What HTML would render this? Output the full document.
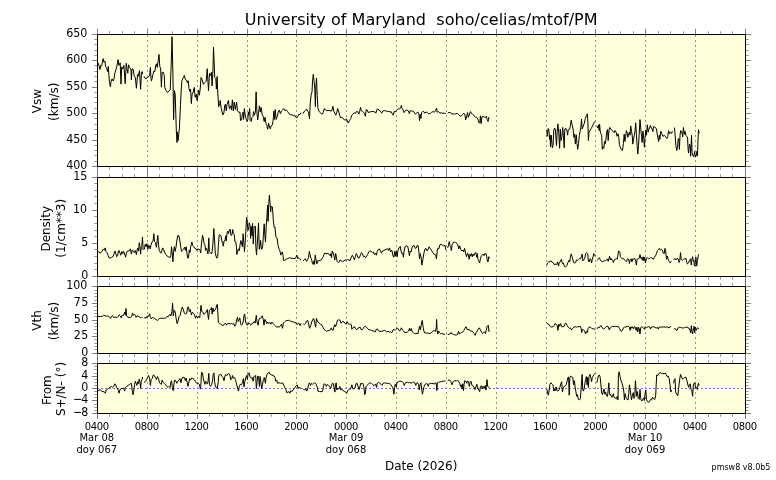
<!DOCTYPE html>
<html lang="en"><head><meta charset="utf-8">
<title>University of Maryland soho/celias/mtof/PM</title>
<style>
html,body{margin:0;padding:0;background:#fff;}
body{width:776px;height:480px;overflow:hidden;}
svg{display:block;}
text{font-family:"DejaVu Sans","Liberation Sans",sans-serif;fill:#000;}
.t16{font-size:16px;letter-spacing:.035px}.t12{font-size:12px}.ty{font-size:11.1px}.tx{font-size:10px}.t8{font-size:8px}.tn{letter-spacing:-.36px}
.sp{fill:none;stroke:#000;stroke-width:1;shape-rendering:crispEdges}
.tk{stroke:#000;stroke-opacity:.5;stroke-width:1;fill:none}
.tm{stroke:#000;stroke-opacity:.4;stroke-width:1;fill:none}
.gr{stroke:#92929a;stroke-width:1;fill:none;stroke-dasharray:2 3}
.zl{stroke:#7474f2;stroke-width:1;fill:none;stroke-dasharray:2 2}
.d{fill:none;stroke:#000;stroke-width:1;stroke-linejoin:round;stroke-linecap:butt}
</style></head><body>
<svg width="776" height="480" viewBox="0 0 776 480" role="img" aria-label="SOHO CELIAS MTOF proton monitor solar wind plot">
<rect x="0" y="0" width="776" height="480" fill="#fff"/>
<text class="t16" x="421.2" y="25.2" text-anchor="middle" xml:space="preserve" style="white-space:pre">University of Maryland  soho/celias/mtof/PM</text>
<g id="panel1">
<rect x="97.5" y="34.5" width="648" height="132" fill="#ffffdc"/>
<path class="gr" stroke-dashoffset="4.5" d="M147.5 34.5V166.5M197.5 34.5V166.5M247.5 34.5V166.5M296.5 34.5V166.5M346.5 34.5V166.5M396.5 34.5V166.5M446.5 34.5V166.5M496.5 34.5V166.5M546.5 34.5V166.5M595.5 34.5V166.5M645.5 34.5V166.5M695.5 34.5V166.5"/>
<polyline class="d" points="97.5,63.8 98.3,63.3 99.1,65.9 100.0,69.5 100.7,65.4 101.7,65.9 102.2,63.3 103.1,58.6 103.9,62.2 105.0,61.2 105.6,66.9 106.7,67.8 107.5,71.6 108.3,66.4 108.9,75.2 109.5,82.5 110.4,86.7 111.1,81.0 112.1,78.9 113.2,81.0 113.9,79.4 114.8,73.2 115.8,70.0 116.8,66.4 118.1,59.6 118.9,65.4 120.2,62.8 121.0,84.1 121.7,66.9 122.9,69.0 123.9,65.4 125.2,83.6 126.2,63.3 127.0,69.0 127.8,73.2 128.5,64.8 129.5,67.4 130.9,69.0 131.4,79.9 132.0,69.0 133.3,69.5 134.0,75.2 135.4,77.9 136.4,88.3 137.5,74.7 138.2,76.3 139.5,70.6 140.6,89.3 141.4,73.2 142.1,71.6 142.7,74.2"/>
<polyline class="d" points="144.1,76.3 145.5,78.9 147.0,77.9 148.1,76.8 149.6,75.8 150.4,67.4 151.0,78.4 151.5,81.0 152.8,75.2 153.8,71.1 154.9,71.6 155.6,65.9 156.4,63.8 157.2,67.4 158.2,60.7 159.0,54.4 159.8,66.9 160.6,68.0 161.4,87.2 162.1,72.1 163.5,72.6 164.2,75.2 164.8,87.8 166.0,90.4 167.4,92.4 168.9,91.4 170.2,89.8 171.2,64.8 172.0,36.7 172.9,72.8 173.6,119.6 174.4,90.6 175.2,94.2 176.3,130.0 177.0,142.5 177.5,132.1 178.1,140.5 179.4,128.0 180.5,104.6 181.2,90.0 181.9,80.7 183.3,77.5 184.3,75.5 185.4,79.6 186.4,80.1 187.4,82.8 188.2,80.7 189.0,88.5 189.8,91.6 190.6,89.0 191.3,103.6 192.1,94.2 193.2,92.1 194.2,87.4 195.2,97.3 196.3,94.2 197.1,100.5 197.9,95.2 198.6,90.0 199.4,95.2 200.2,89.0 201.0,77.5 202.0,79.1 203.4,84.3 204.6,82.8 206.2,81.2 207.2,68.7 208.5,90.6 209.5,73.4 210.4,75.5 211.4,72.3 212.1,85.9 213.0,69.2 213.5,47.3 214.2,64.0 214.7,77.5 215.8,78.6 216.4,89.0 217.1,76.5 217.6,90.0 218.7,106.7 219.7,103.6 220.2,100.5 221.3,108.8 222.9,115.0 223.9,113.0 224.7,105.7 225.5,104.1 226.2,110.9 227.0,104.6 228.4,100.5 229.4,108.8 230.7,105.7 231.5,109.8 232.4,99.9 233.3,110.9 234.3,102.0 235.4,109.8 236.6,102.0 237.4,110.4 238.8,112.4 240.0,112.1 240.5,120.5 241.6,119.9 242.3,114.2 243.1,112.1 243.6,119.4 244.4,108.5 245.2,115.2 246.0,118.4 247.1,121.5 247.8,119.9 248.3,112.1 248.9,115.2 249.6,108.5 250.2,120.5 251.2,121.5 252.0,117.3 253.0,116.3 253.5,111.6 254.4,115.2 255.4,112.1 256.1,91.8 256.9,112.1 257.7,119.9 258.5,113.2 259.4,105.9 260.3,112.1 261.1,107.4 262.1,114.2 263.1,116.3 264.2,121.5 265.0,117.3 266.0,123.6 266.9,125.7 267.7,129.3 268.6,123.1 269.7,127.8 270.4,128.8 271.2,125.7 272.3,125.1 273.1,120.5 273.9,111.1 274.6,119.4 275.2,109.5 276.2,119.4 277.3,116.3 278.3,112.1 279.4,110.0 280.4,113.7 281.5,111.1 282.7,110.0 283.8,108.5 285.0,110.6 286.4,110.0 287.7,111.6 289.0,113.7 290.5,114.7 292.1,114.7 293.3,115.8 294.7,115.2 295.7,117.3 296.8,117.9 297.8,116.3 298.9,114.2 299.9,114.7 301.2,112.6"/>
<polyline class="d" points="303.0,113.7 304.1,111.6 305.4,110.6 306.5,109.0 307.5,111.1 308.5,112.1 309.5,118.9 310.2,103.6 311.2,94.2 312.0,92.1 312.5,81.7 313.3,74.4 314.1,81.7 314.8,89.0 315.4,106.7 315.8,88.0 316.5,78.1 317.2,95.2 317.9,107.8 318.1,109.0 319.2,111.6 320.4,112.6 321.7,114.2 322.7,113.7 323.5,111.1 324.4,108.5 325.4,110.0 326.7,110.6 328.2,110.6 329.8,110.6 331.4,111.1 332.4,109.0 332.9,106.4 333.8,111.1 334.8,113.2 335.8,115.2 336.9,112.1 337.6,108.5 338.6,111.1 339.7,115.2 340.5,117.9 341.8,117.3 343.1,118.4 344.2,119.9 345.4,119.9 346.5,118.9 347.3,121.0 348.3,123.1 349.6,120.5 350.8,118.4 351.7,115.2 352.9,114.2 354.3,112.6 355.3,113.7 356.4,111.6 357.7,111.6 358.8,114.2 359.8,111.1 360.5,107.4 361.2,110.6 362.3,111.1 363.3,112.1 364.4,113.2 365.4,116.3 366.2,109.5 367.3,110.0 368.3,112.6 369.9,111.9 371.5,111.6 373.0,111.4 374.6,111.9 375.8,113.2 376.9,109.5 378.2,109.0 379.6,110.9 380.8,111.6 381.7,113.2 382.7,111.1 384.2,110.6 385.8,110.9 387.6,111.6 388.9,111.3 390.2,112.1 391.2,111.6 392.2,113.7 393.3,115.2 394.1,111.6 395.2,111.9 396.2,110.6 397.2,109.5 398.3,108.8 399.5,109.0 400.6,107.8 401.4,105.4 402.1,108.5 403.2,110.0 404.2,112.6 405.3,110.6 406.8,110.0 408.4,110.9 409.4,113.7 410.2,110.6 411.5,110.9 412.9,111.3 414.1,112.1 415.4,114.2 416.7,113.2 417.8,111.9 418.8,113.7 419.5,120.5 420.2,114.2 420.9,118.4 421.6,112.6 422.5,111.6 423.5,111.3 424.8,113.2 426.1,111.9 427.5,112.6 428.7,113.7 430.3,113.5 431.6,112.3 432.9,111.6 434.1,112.1 435.5,111.1 436.5,108.2 437.2,112.1 438.6,111.6 440.0,113.2 441.2,112.6 442.8,113.4 444.3,113.2 445.9,113.5"/>
<polyline class="d" points="447.7,113.2 449.0,112.3 450.6,112.6 451.8,114.2 453.2,113.7 454.5,114.2 455.8,113.7 457.4,113.5 458.9,114.7 460.2,116.3 461.5,115.8 462.9,114.2 463.9,113.2 465.0,115.2 465.7,119.9 466.9,115.2 467.6,112.6 468.3,117.3 469.2,115.2 470.0,112.6 470.5,111.6 471.2,113.2 472.3,113.7 473.3,114.7 474.4,116.3 475.4,117.3 476.5,117.1 477.5,118.4 478.3,120.5 479.1,123.1 479.8,122.5 480.4,115.8 481.1,123.6 481.9,116.8 482.9,116.5 484.3,117.1 485.6,117.3 486.4,116.3 487.1,119.4 488.1,121.5 488.8,117.3 489.5,117.9"/>
<polyline class="d" points="546.8,130.0 547.3,136.3 548.1,128.5 548.9,130.0 549.6,139.4 550.2,135.2 550.4,146.7 551.2,135.2 552.3,147.8 553.0,145.7 553.8,130.0 554.6,128.0 555.4,130.0 556.5,145.7 557.2,131.1 557.9,123.8 558.8,133.2 559.6,148.3 560.3,129.0 561.0,140.5 561.9,136.3 562.7,127.4 563.4,135.2 564.2,147.8 564.8,129.0 566.0,128.5 567.1,131.1 567.6,135.2 568.3,129.5 569.7,129.0 570.5,124.8 571.2,120.1 572.1,124.8 573.1,129.0 573.9,137.3 574.6,134.2 575.4,144.1 576.2,134.7 577.0,143.6 577.7,149.3 578.5,143.6 579.4,135.2 580.1,131.6 580.8,128.0 581.5,119.1 582.2,129.0 583.2,126.4 584.3,123.3 585.3,118.6 586.4,115.5 587.4,113.9 587.9,122.8 588.4,140.5 589.0,132.1 590.0,130.6 591.2,128.5 592.6,125.9 593.6,123.3 594.7,121.7 595.4,121.2"/>
<polyline class="d" points="596.8,125.9 597.8,128.0 598.5,124.8 599.2,130.6 599.6,124.3 600.2,131.1 600.9,133.7 601.7,135.2 602.3,149.3 603.0,146.7 603.8,148.3 604.6,141.5 605.4,143.6 606.1,137.9 606.7,132.1 607.5,129.5 608.2,140.5 609.0,130.0 609.8,127.4 610.8,129.0 612.1,130.6 613.4,131.6 614.0,132.6 615.0,130.6 616.1,132.1 617.1,136.3 618.0,133.7 618.7,136.3 619.4,144.6 620.5,147.8 621.5,149.8 622.5,150.4 623.4,143.6 624.2,134.2 624.9,141.5 625.7,136.3 626.3,130.6 627.0,132.1 627.8,137.3 628.6,134.2 629.4,132.1 630.1,135.2 630.7,125.9 631.5,131.1 632.2,135.2 632.8,144.1 633.6,138.4 634.3,135.2 635.0,131.1 635.7,122.8 636.4,134.2 637.1,145.7 637.8,154.0 638.5,145.7 639.2,134.2 640.0,119.6 640.9,130.0 641.6,136.3 642.1,142.5 643.0,131.1 643.7,138.4 644.4,147.2 645.0,138.4 645.8,130.0 646.5,135.2 647.3,124.8 648.2,132.1 648.9,129.0 649.6,128.0 650.5,125.4 651.3,128.0 652.3,129.0 652.8,131.6 653.6,126.4 654.6,126.9 655.7,128.0 656.5,129.0 657.2,134.2 658.0,138.4 658.6,141.5 659.3,135.2 659.8,139.4 660.8,131.2 661.9,133.8 662.9,136.4 664.2,135.4 665.4,136.4 666.8,138.5 667.8,136.4 668.5,130.7 669.6,133.8 670.4,132.2 671.7,133.3 672.3,131.2"/>
<polyline class="d" points="674.4,127.5 675.1,134.8 675.8,145.2 676.7,150.5 677.5,147.3 678.2,139.0 678.8,138.5 679.4,149.4 680.0,135.9 680.6,130.7 681.4,131.2 682.1,133.3 682.7,136.9 683.4,127.5 684.2,134.3 685.0,131.2 685.8,135.4 686.9,136.4 687.6,138.0 688.1,149.4 688.6,153.1 689.4,144.2 690.2,145.2 690.7,156.2 691.5,135.4 692.1,152.5 692.8,155.7 693.9,156.7 694.6,151.5 695.4,157.2 696.2,155.7 697.0,151.0 697.5,155.7 698.0,140.0 698.5,129.6 699.1,133.3"/>
<path class="tm" d="M109.5 34.5V31.2M109.5 166.5V169.8M122.5 34.5V31.2M122.5 166.5V169.8M134.5 34.5V31.2M134.5 166.5V169.8M159.5 34.5V31.2M159.5 166.5V169.8M172.5 34.5V31.2M172.5 166.5V169.8M184.5 34.5V31.2M184.5 166.5V169.8M209.5 34.5V31.2M209.5 166.5V169.8M222.5 34.5V31.2M222.5 166.5V169.8M234.5 34.5V31.2M234.5 166.5V169.8M259.5 34.5V31.2M259.5 166.5V169.8M271.5 34.5V31.2M271.5 166.5V169.8M284.5 34.5V31.2M284.5 166.5V169.8M309.5 34.5V31.2M309.5 166.5V169.8M321.5 34.5V31.2M321.5 166.5V169.8M334.5 34.5V31.2M334.5 166.5V169.8M359.5 34.5V31.2M359.5 166.5V169.8M371.5 34.5V31.2M371.5 166.5V169.8M384.5 34.5V31.2M384.5 166.5V169.8M408.5 34.5V31.2M408.5 166.5V169.8M421.5 34.5V31.2M421.5 166.5V169.8M433.5 34.5V31.2M433.5 166.5V169.8M458.5 34.5V31.2M458.5 166.5V169.8M471.5 34.5V31.2M471.5 166.5V169.8M483.5 34.5V31.2M483.5 166.5V169.8M508.5 34.5V31.2M508.5 166.5V169.8M521.5 34.5V31.2M521.5 166.5V169.8M533.5 34.5V31.2M533.5 166.5V169.8M558.5 34.5V31.2M558.5 166.5V169.8M570.5 34.5V31.2M570.5 166.5V169.8M583.5 34.5V31.2M583.5 166.5V169.8M608.5 34.5V31.2M608.5 166.5V169.8M620.5 34.5V31.2M620.5 166.5V169.8M633.5 34.5V31.2M633.5 166.5V169.8M658.5 34.5V31.2M658.5 166.5V169.8M670.5 34.5V31.2M670.5 166.5V169.8M683.5 34.5V31.2M683.5 166.5V169.8M708.5 34.5V31.2M708.5 166.5V169.8M720.5 34.5V31.2M720.5 166.5V169.8M732.5 34.5V31.2M732.5 166.5V169.8M97.5 161.5H94.2M745.5 161.5H748.8M97.5 155.5H94.2M745.5 155.5H748.8M97.5 150.5H94.2M745.5 150.5H748.8M97.5 145.5H94.2M745.5 145.5H748.8M97.5 134.5H94.2M745.5 134.5H748.8M97.5 129.5H94.2M745.5 129.5H748.8M97.5 124.5H94.2M745.5 124.5H748.8M97.5 118.5H94.2M745.5 118.5H748.8M97.5 108.5H94.2M745.5 108.5H748.8M97.5 102.5H94.2M745.5 102.5H748.8M97.5 97.5H94.2M745.5 97.5H748.8M97.5 92.5H94.2M745.5 92.5H748.8M97.5 81.5H94.2M745.5 81.5H748.8M97.5 76.5H94.2M745.5 76.5H748.8M97.5 71.5H94.2M745.5 71.5H748.8M97.5 65.5H94.2M745.5 65.5H748.8M97.5 55.5H94.2M745.5 55.5H748.8M97.5 50.5H94.2M745.5 50.5H748.8M97.5 44.5H94.2M745.5 44.5H748.8M97.5 39.5H94.2M745.5 39.5H748.8"/>
<path class="tk" d="M97.5 34.5V28.9M97.5 166.5V172.1M147.5 34.5V28.9M147.5 166.5V172.1M197.5 34.5V28.9M197.5 166.5V172.1M247.5 34.5V28.9M247.5 166.5V172.1M296.5 34.5V28.9M296.5 166.5V172.1M346.5 34.5V28.9M346.5 166.5V172.1M396.5 34.5V28.9M396.5 166.5V172.1M446.5 34.5V28.9M446.5 166.5V172.1M496.5 34.5V28.9M496.5 166.5V172.1M546.5 34.5V28.9M546.5 166.5V172.1M595.5 34.5V28.9M595.5 166.5V172.1M645.5 34.5V28.9M645.5 166.5V172.1M695.5 34.5V28.9M695.5 166.5V172.1M745.5 34.5V28.9M745.5 166.5V172.1M97.5 166.5H91.9M745.5 166.5H751.1M97.5 140.5H91.9M745.5 140.5H751.1M97.5 113.5H91.9M745.5 113.5H751.1M97.5 87.5H91.9M745.5 87.5H751.1M97.5 60.5H91.9M745.5 60.5H751.1M97.5 34.5H91.9M745.5 34.5H751.1"/>
<rect class="sp" x="97.5" y="34.5" width="648" height="132"/>
<text class="ty" transform="translate(87.4 168.85) scale(1 1.1)" text-anchor="end">400</text>
<text class="ty" transform="translate(87.4 142.85) scale(1 1.1)" text-anchor="end">450</text>
<text class="ty" transform="translate(87.4 115.85) scale(1 1.1)" text-anchor="end">500</text>
<text class="ty" transform="translate(87.4 89.85) scale(1 1.1)" text-anchor="end">550</text>
<text class="ty" transform="translate(87.4 62.85) scale(1 1.1)" text-anchor="end">600</text>
<text class="ty" transform="translate(87.4 36.85) scale(1 1.1)" text-anchor="end">650</text>
<text class="t12" transform="translate(41.1 101) rotate(-90)" text-anchor="middle">Vsw</text>
<text class="t12" transform="translate(57.7 101.75) rotate(-90)" text-anchor="middle">(km/s)</text>
</g>
<g id="panel2">
<rect x="97.5" y="177.5" width="648" height="99" fill="#ffffdc"/>
<path class="gr" stroke-dashoffset="2.5" d="M147.5 177.5V276.5M197.5 177.5V276.5M247.5 177.5V276.5M296.5 177.5V276.5M346.5 177.5V276.5M396.5 177.5V276.5M446.5 177.5V276.5M496.5 177.5V276.5M546.5 177.5V276.5M595.5 177.5V276.5M645.5 177.5V276.5M695.5 177.5V276.5"/>
<polyline class="d" points="97.5,250.5 98.6,251.5 100.2,253.3 101.7,251.5 103.1,249.4 104.3,250.2 105.2,247.9 105.9,251.5 106.9,252.6 108.0,255.2 109.3,258.3 110.6,257.8 111.8,257.2 112.9,256.7 113.9,254.1 115.0,251.0 115.8,253.6 116.6,256.7 117.7,255.7 118.4,251.0 119.1,250.5 120.0,253.1 120.8,255.2 121.8,251.5 122.9,253.6 123.6,251.5 124.6,254.1 125.7,257.2 126.4,253.1 127.0,251.5 128.3,251.0 129.5,250.8 130.4,248.9 131.4,254.1 132.2,250.0 133.3,250.8 134.3,252.6 135.4,250.5 136.4,254.6 137.1,250.0 137.9,247.9 138.7,251.0 139.2,242.7 140.0,246.8 140.6,254.1 141.3,246.8 141.8,246.3 142.5,236.9 143.1,250.0"/>
<polyline class="d" points="144.4,249.4 145.2,244.2 146.0,246.8 147.0,243.7 147.9,249.4 148.6,245.3 149.3,245.8 150.2,248.9 151.0,244.8 152.2,241.6 153.1,241.1 153.8,233.8 154.5,241.6 155.6,242.7 156.4,247.4 157.2,240.6 157.8,235.4 158.5,244.8 159.3,250.5 160.4,252.6 161.1,253.1 161.8,251.0 162.7,247.9 163.5,249.4 164.5,252.0 165.6,254.1 166.8,255.7 168.1,256.7 169.4,257.2 170.0,257.7 170.8,255.6 171.5,246.7 172.1,251.4 172.9,261.8 173.6,251.4 174.4,246.7 175.2,251.4 176.0,247.2 176.8,241.0 177.8,235.3 178.9,235.8 179.9,241.0 180.6,246.2 181.5,251.4 182.5,250.4 183.5,249.3 184.6,247.2 185.4,250.4 186.1,246.7 186.9,252.5 187.7,258.2 188.5,257.7 189.3,249.9 190.0,252.5 190.8,246.2 191.9,242.0 192.7,245.7 193.8,246.7 194.8,248.3 196.0,248.8 196.9,250.4 197.9,248.8 199.2,249.3 200.0,249.9 200.7,253.0 201.5,243.1 202.5,235.3 203.3,237.9 204.2,244.1 204.9,244.6 205.6,250.4 206.5,248.3 207.3,250.9 208.0,254.0 208.8,237.9 209.4,251.4 210.4,252.5 211.5,254.0 212.2,251.4 212.9,244.1 213.8,228.5 214.6,241.0 215.3,253.0 216.0,256.1 216.9,258.2 217.7,256.6 218.4,245.2 219.2,234.8 220.2,235.3 221.0,235.8 221.9,241.0 222.6,243.6 223.3,246.2 224.0,241.0 225.0,240.5 225.7,235.8 226.2,241.0 227.1,232.7 227.8,231.1 228.5,233.7 229.4,230.1 230.2,229.0 230.9,235.3 232.0,234.8 232.7,229.5 233.5,233.7 234.4,234.8 234.8,241.5 235.8,242.0 236.5,247.2 236.9,254.5 237.7,250.4 238.5,248.8 239.3,250.9 240.0,245.2 240.8,240.5 241.7,244.1 242.4,246.7 243.1,233.7 243.8,242.0 244.5,251.9 245.2,242.0 245.8,231.6 246.6,217.0 247.3,222.2 247.9,230.6 248.6,229.5 249.2,222.8 250.0,225.4 250.2,226.4 250.6,238.4 251.2,226.4 252.0,235.8 252.5,223.3 253.3,244.1 254.1,226.4 255.4,226.4 255.8,246.2 256.5,255.1 257.2,245.2 257.9,234.8 258.5,223.3 259.3,249.3 260.0,246.2 260.6,240.5 261.4,249.3 262.1,248.8 262.7,246.2 263.4,234.8 264.2,223.8 264.8,234.8 265.5,242.0 266.2,226.4 266.9,217.2 267.6,205.3 268.1,221.4 268.8,202.7 269.4,195.2 270.2,204.8 270.7,212.0 271.2,206.3 272.3,206.8 272.8,212.0 273.3,220.4 274.2,227.5 274.9,226.9 275.9,236.8 277.0,237.9 278.0,245.2 279.1,249.3 280.1,251.4 280.6,255.1 281.5,254.0 282.2,251.9 282.9,254.5 283.5,260.3 284.8,260.3 286.4,259.2 287.9,258.5 289.5,257.7 291.0,258.2 292.6,258.5 294.2,258.5 295.7,258.2 296.8,255.1 297.8,258.7 298.9,257.7 299.9,258.7 300.9,260.3"/>
<polyline class="d" points="303.0,260.8 304.4,259.8 305.4,258.7 306.5,261.3 307.5,259.8 308.5,257.7 309.3,251.4 310.0,254.5 310.8,257.7 311.7,259.8 312.4,263.4 313.1,264.4 314.0,260.8 314.5,264.4 315.2,255.1 316.0,259.8 316.9,263.9 317.6,260.8 318.6,261.0 320.0,260.3 321.3,259.9 322.3,258.3 323.2,256.7 323.9,254.6 324.9,252.9 326.0,254.1 327.0,253.3 328.1,253.6 329.1,254.1 330.1,255.7 330.9,253.6 331.5,257.8 332.2,251.0 333.3,253.1 334.0,256.2 334.8,259.9 335.7,253.6 336.4,257.2 337.1,261.4 338.2,262.5 339.2,261.9 340.0,259.9 341.1,260.9 342.3,261.4 343.7,260.9 345.0,260.2 346.3,259.9 347.5,259.5 348.9,260.2 350.2,260.4 351.3,257.2 352.3,255.2 353.4,257.2 354.4,259.9 355.5,256.2 356.2,253.6 357.2,255.2 358.3,258.3 359.3,257.8 360.4,255.2 361.4,252.6 362.4,253.6 363.5,256.7 364.5,256.2 365.6,257.8 366.6,256.2 367.6,254.6 368.7,252.0 369.7,251.0 371.1,251.2 372.3,252.6 373.4,252.0 374.4,254.6 375.5,253.1 376.3,255.2 377.3,251.5 378.4,249.4 379.4,248.9 380.5,251.0 381.5,253.1 382.5,251.0 383.8,250.5 385.0,249.8 386.4,249.1 387.4,248.7 388.5,250.5 389.5,247.9 390.6,252.0 391.6,250.0 392.3,252.0 393.2,256.7 394.0,257.2 394.8,251.0 395.5,256.2 396.3,251.5 397.2,256.7 397.9,251.0 398.9,247.9 400.3,246.3 401.0,251.0 401.8,253.6 402.8,253.1 403.4,257.2 404.1,251.0 404.9,246.8 406.2,245.8 407.6,246.3 408.3,248.9 409.4,255.7 410.1,251.0 411.1,252.0 412.0,247.9 413.0,245.8 414.2,245.6 415.3,248.4 416.3,247.9 417.2,245.3 418.2,245.8 419.0,253.1 419.5,258.8 420.3,253.6 421.1,257.2 421.9,265.1 422.9,259.3 423.9,253.1 425.0,248.9 426.0,248.4 427.1,251.0 428.1,249.4 429.1,246.8 430.2,248.4 431.5,250.5 432.8,252.6 433.8,254.1 435.1,254.6 435.9,255.2 436.4,258.8 437.2,251.0 437.8,248.4 438.8,248.9 439.9,244.8 441.1,244.2 442.4,245.3 443.7,245.8 445.1,245.6 445.8,250.0"/>
<polyline class="d" points="447.6,247.9 448.4,245.8 449.2,241.6 450.0,245.3 450.7,246.8 451.3,250.5 452.1,244.8 453.1,242.7 454.5,242.1 455.7,242.5 456.8,243.2 457.8,244.8 458.8,248.9 459.7,245.8 460.7,249.4 461.8,251.0 462.8,250.0 463.5,252.0 464.6,248.4 465.6,253.6 466.6,256.7 467.4,253.1 468.0,253.6 469.2,259.3 470.0,254.1 470.7,256.2 471.5,253.6 472.3,256.7 473.1,254.1 473.9,255.7 474.9,253.1 475.9,252.6 476.7,257.2 477.3,253.6 478.0,259.3 478.8,260.9 479.6,263.0 480.4,259.3 481.1,256.2 482.2,255.2 483.2,254.1 484.0,255.7 484.8,253.6 485.8,253.3 486.7,256.2 487.4,261.4 488.1,261.9 488.8,256.7 489.5,258.3"/>
<polyline class="d" points="546.8,265.1 547.5,263.0 548.9,261.9 550.2,261.4 551.2,260.9 552.3,262.5 553.5,263.0 554.6,265.1 555.6,264.0 556.7,264.5 557.7,261.9 558.5,266.1 559.3,262.5 560.3,261.9 561.4,259.3 562.4,263.5 563.4,263.0 564.5,266.6 565.8,266.8 566.9,265.6 567.9,262.5 569.0,260.4 569.7,261.9 570.4,257.2 571.2,253.9 572.1,256.7 572.8,259.3 573.5,262.5 574.6,263.0 575.6,262.5 576.5,259.9 577.5,260.4 578.5,259.3 579.6,258.3 580.6,258.8 581.5,256.2 582.2,254.1 582.9,260.9 583.8,259.9 584.8,258.3 585.6,253.6 586.7,252.6 587.7,253.6 588.4,261.4 589.2,261.9 590.0,258.8 590.8,259.3 591.6,263.0 592.3,259.3 593.1,256.7 593.8,253.6 594.7,254.6 595.2,256.2"/>
<polyline class="d" points="597.1,260.4 598.1,259.3 599.4,257.8 600.4,259.9 601.5,261.4 602.7,261.6 604.1,260.9 605.4,260.6 606.7,259.9 607.7,258.8 608.2,261.4 609.0,258.3 609.6,256.2 610.3,259.9 611.0,258.3 611.9,259.9 612.9,260.4 613.4,262.5 614.2,259.9 615.2,259.3 616.2,258.5 617.3,259.3 617.9,255.2 618.6,251.0 619.4,251.5 620.0,252.6 620.2,256.2 621.3,257.8 622.3,258.8 623.4,258.3 624.4,259.9 625.5,260.9 626.5,261.4 627.5,258.8 628.6,259.3 629.4,263.5 630.1,259.9 631.2,258.8 631.9,261.9 632.8,258.8 633.8,259.3 634.8,258.3 635.7,261.4 636.4,265.1 637.1,259.3 638.2,258.8 639.2,258.3 640.0,254.6 640.9,258.3 641.6,257.2 642.3,260.4 643.2,256.7 644.0,260.9 644.7,257.2 645.5,263.0 646.3,258.3 647.3,257.8 648.6,258.8 649.9,258.3 651.0,257.2 652.0,258.3 653.4,259.3 654.4,257.2 655.5,255.7 656.5,253.6 657.2,251.0 658.3,250.0 659.3,248.4 660.4,250.0 661.4,249.4 662.4,250.0 663.2,253.1 664.2,253.6 665.0,248.4 665.9,253.1 666.6,259.3 667.3,256.2 668.2,259.3 669.2,261.4 670.2,263.0 671.5,261.4"/>
<polyline class="d" points="673.9,259.9 674.9,258.5 676.0,259.9 677.0,258.3 678.1,258.8 679.1,262.5 679.8,260.4 680.5,252.6 681.2,259.3 682.2,260.4 683.6,259.3 684.8,258.8 685.9,258.3 686.7,261.9 687.4,264.0 688.5,263.0 689.5,260.4 690.6,258.8 691.3,265.1 691.9,259.3 692.6,256.7 693.4,261.4 694.0,260.4 694.2,265.1 694.9,266.1 695.4,262.5 695.9,257.2 696.7,266.1 697.5,260.4 698.3,255.7 698.9,254.1"/>
<path class="tm" d="M109.5 177.5V174.2M109.5 276.5V279.8M122.5 177.5V174.2M122.5 276.5V279.8M134.5 177.5V174.2M134.5 276.5V279.8M159.5 177.5V174.2M159.5 276.5V279.8M172.5 177.5V174.2M172.5 276.5V279.8M184.5 177.5V174.2M184.5 276.5V279.8M209.5 177.5V174.2M209.5 276.5V279.8M222.5 177.5V174.2M222.5 276.5V279.8M234.5 177.5V174.2M234.5 276.5V279.8M259.5 177.5V174.2M259.5 276.5V279.8M271.5 177.5V174.2M271.5 276.5V279.8M284.5 177.5V174.2M284.5 276.5V279.8M309.5 177.5V174.2M309.5 276.5V279.8M321.5 177.5V174.2M321.5 276.5V279.8M334.5 177.5V174.2M334.5 276.5V279.8M359.5 177.5V174.2M359.5 276.5V279.8M371.5 177.5V174.2M371.5 276.5V279.8M384.5 177.5V174.2M384.5 276.5V279.8M408.5 177.5V174.2M408.5 276.5V279.8M421.5 177.5V174.2M421.5 276.5V279.8M433.5 177.5V174.2M433.5 276.5V279.8M458.5 177.5V174.2M458.5 276.5V279.8M471.5 177.5V174.2M471.5 276.5V279.8M483.5 177.5V174.2M483.5 276.5V279.8M508.5 177.5V174.2M508.5 276.5V279.8M521.5 177.5V174.2M521.5 276.5V279.8M533.5 177.5V174.2M533.5 276.5V279.8M558.5 177.5V174.2M558.5 276.5V279.8M570.5 177.5V174.2M570.5 276.5V279.8M583.5 177.5V174.2M583.5 276.5V279.8M608.5 177.5V174.2M608.5 276.5V279.8M620.5 177.5V174.2M620.5 276.5V279.8M633.5 177.5V174.2M633.5 276.5V279.8M658.5 177.5V174.2M658.5 276.5V279.8M670.5 177.5V174.2M670.5 276.5V279.8M683.5 177.5V174.2M683.5 276.5V279.8M708.5 177.5V174.2M708.5 276.5V279.8M720.5 177.5V174.2M720.5 276.5V279.8M732.5 177.5V174.2M732.5 276.5V279.8M97.5 269.5H94.2M745.5 269.5H748.8M97.5 263.5H94.2M745.5 263.5H748.8M97.5 256.5H94.2M745.5 256.5H748.8M97.5 249.5H94.2M745.5 249.5H748.8M97.5 236.5H94.2M745.5 236.5H748.8M97.5 230.5H94.2M745.5 230.5H748.8M97.5 223.5H94.2M745.5 223.5H748.8M97.5 216.5H94.2M745.5 216.5H748.8M97.5 203.5H94.2M745.5 203.5H748.8M97.5 196.5H94.2M745.5 196.5H748.8M97.5 190.5H94.2M745.5 190.5H748.8M97.5 183.5H94.2M745.5 183.5H748.8"/>
<path class="tk" d="M97.5 177.5V171.9M97.5 276.5V282.1M147.5 177.5V171.9M147.5 276.5V282.1M197.5 177.5V171.9M197.5 276.5V282.1M247.5 177.5V171.9M247.5 276.5V282.1M296.5 177.5V171.9M296.5 276.5V282.1M346.5 177.5V171.9M346.5 276.5V282.1M396.5 177.5V171.9M396.5 276.5V282.1M446.5 177.5V171.9M446.5 276.5V282.1M496.5 177.5V171.9M496.5 276.5V282.1M546.5 177.5V171.9M546.5 276.5V282.1M595.5 177.5V171.9M595.5 276.5V282.1M645.5 177.5V171.9M645.5 276.5V282.1M695.5 177.5V171.9M695.5 276.5V282.1M745.5 177.5V171.9M745.5 276.5V282.1M97.5 276.5H91.9M745.5 276.5H751.1M97.5 243.5H91.9M745.5 243.5H751.1M97.5 210.5H91.9M745.5 210.5H751.1M97.5 177.5H91.9M745.5 177.5H751.1"/>
<rect class="sp" x="97.5" y="177.5" width="648" height="99"/>
<text class="ty" transform="translate(88.4 278.85) scale(1 1.1)" text-anchor="end">0</text>
<text class="ty" transform="translate(88.4 245.85) scale(1 1.1)" text-anchor="end">5</text>
<text class="ty" transform="translate(87.1 212.85) scale(1 1.1)" text-anchor="end">10</text>
<text class="ty" transform="translate(87.4 179.85) scale(1 1.1)" text-anchor="end">15</text>
<text class="t12" transform="translate(50.2 228.8) rotate(-90)" text-anchor="middle">Density</text>
<text class="t12" transform="translate(64.5 228.3) rotate(-90)" text-anchor="middle">(1/cm**3)</text>
</g>
<g id="panel3">
<rect x="97.5" y="286.5" width="648" height="67" fill="#ffffdc"/>
<path class="gr" stroke-dashoffset="4.5" d="M147.5 286.5V353.5M197.5 286.5V353.5M247.5 286.5V353.5M296.5 286.5V353.5M346.5 286.5V353.5M396.5 286.5V353.5M446.5 286.5V353.5M496.5 286.5V353.5M546.5 286.5V353.5M595.5 286.5V353.5M645.5 286.5V353.5M695.5 286.5V353.5"/>
<polyline class="d" points="97.5,316.3 99.1,316.6 100.7,316.5 102.2,316.3 103.5,315.3 104.9,315.6 106.2,316.3 107.5,316.0 108.7,316.3 109.8,317.4 110.6,318.4 111.4,316.3 112.5,315.6 113.5,317.4 114.8,317.4 116.0,317.1 117.4,317.4 118.4,316.3 119.1,314.8 120.2,315.8 121.2,317.9 122.0,315.3 123.1,315.8 123.9,314.2 124.6,312.1 125.4,315.3 126.0,308.5 126.7,315.8 127.8,317.4 129.1,317.4 130.4,317.4 131.6,316.8 132.5,313.2 133.5,315.3 134.3,314.2 135.4,315.3 136.1,317.4 137.1,315.8 138.2,316.3 139.2,316.8 140.3,317.7 141.3,317.4 142.4,317.4"/>
<polyline class="d" points="144.4,317.4 145.2,318.4 146.0,316.8 147.0,317.4 147.9,315.8 148.6,316.3 149.6,313.7 150.4,317.4 151.2,318.9 152.2,317.4 153.3,317.9 154.3,318.4 155.4,318.9 156.4,320.0 157.5,320.5 158.5,319.4 159.8,318.4 160.8,318.1 162.1,318.4 163.5,318.1 164.8,318.4 166.0,317.7 167.0,316.3 168.1,316.8 168.9,315.3 170.0,314.2 170.0,315.3 171.0,315.8 171.9,311.6 172.6,303.3 173.3,315.8 174.2,310.1 175.2,311.6 176.0,317.9 177.1,323.6 178.1,321.0 179.2,316.3 180.2,315.3 181.2,310.6 182.3,306.9 183.3,309.5 184.4,313.2 185.4,314.2 186.7,313.7 187.5,307.5 188.5,306.9 189.3,311.6 190.3,309.5 191.4,314.8 192.4,312.1 193.4,313.2 194.5,314.8 195.5,318.4 196.6,315.8 197.6,317.9 198.6,316.3 199.7,317.9 200.4,311.6 201.0,305.4 201.8,311.6 202.8,312.1 203.9,314.2 204.9,313.7 206.2,312.1 207.3,309.5 207.7,313.2 208.5,319.4 209.4,310.6 210.4,309.5 211.5,307.5 212.2,314.2 212.9,308.0 213.8,311.6 214.8,310.1 215.8,309.0 216.7,304.9 217.4,304.3 217.9,313.7 218.4,322.6 219.5,323.6 220.8,324.1 222.1,325.2 223.1,325.7 224.4,324.1 225.4,323.1 226.5,325.2 227.5,323.6 228.9,323.3 230.2,323.9 231.5,323.6 232.5,324.1 233.8,323.6 234.8,326.2 235.8,324.6 236.7,319.4 237.5,317.4 238.2,321.5 239.0,320.0 239.8,317.9 240.6,323.6 241.4,325.2 242.4,324.1 243.4,321.0 244.0,314.8 244.8,314.2 245.6,322.0 246.6,324.6 247.6,325.2 248.7,322.6 249.7,324.1 250.8,325.2 251.8,323.6 253.2,323.1 254.2,321.5 255.2,323.1 256.3,315.3 257.0,322.0 258.1,325.2 259.1,318.9 260.1,318.4 261.2,317.9 262.2,315.8 263.3,319.4 264.0,325.2 264.8,319.4 265.9,321.0 266.7,323.6 267.8,322.0 268.8,323.6 269.8,322.6 270.9,324.1 271.9,322.0 273.2,323.6 274.2,324.6 275.2,325.7 276.5,327.2 277.9,326.7 279.2,327.2 280.5,325.7 281.5,324.1 282.5,328.3 283.4,323.1 284.4,322.0 285.7,321.0 286.9,320.5 288.3,320.3 289.6,320.5 290.9,321.5 292.1,321.8 293.5,322.0 294.8,322.6 296.1,323.1 297.1,324.6 298.2,323.1 299.2,323.6 300.0,325.7 301.1,323.3"/>
<polyline class="d" points="303.4,324.1 304.4,324.6 305.5,323.6 306.5,321.0 307.8,320.5 308.6,324.1 309.6,328.3 310.7,325.7 311.7,322.0 312.8,319.4 313.6,318.4 314.6,322.6 315.7,327.2 316.4,318.4 317.4,321.0 318.0,322.0 319.2,323.3 320.6,324.3 322.0,325.2 323.0,327.2 324.0,329.3 325.3,330.4 326.5,331.2 327.9,330.9 329.2,330.4 330.5,329.9 331.3,327.8 332.1,329.9 333.1,330.4 333.8,327.2 334.7,324.6 335.5,326.7 336.5,324.1 337.3,320.5 338.6,319.8 339.9,320.0 340.9,323.1 342.0,322.0 343.0,321.5 344.0,322.0 345.1,323.6 346.1,324.1 347.2,321.5 348.2,323.9 349.2,324.1 350.5,324.3 351.3,324.6 351.9,329.3 352.9,328.3 353.9,326.7 355.0,327.2 355.7,328.8 356.8,329.9 357.8,328.3 358.8,327.8 360.2,327.2 360.9,329.3 362.0,329.9 363.0,328.8 364.4,326.7 365.4,326.2 366.4,327.2 367.8,328.8 369.0,329.9 370.3,329.9 371.6,330.4 373.0,330.9 374.2,331.4 375.3,331.9 376.3,329.3 377.6,329.1 378.6,330.9 380.0,331.4 381.5,331.2 383.1,330.9 384.7,330.4 385.7,330.9 386.8,331.9 388.0,331.4 389.4,332.2 390.4,331.6 391.4,332.5 392.0,332.5 393.0,329.9 394.1,329.3 395.1,330.4 396.2,329.3 397.2,327.8 398.2,328.8 399.3,330.9 400.3,330.4 401.4,327.8 402.4,329.9 403.5,330.9 404.5,332.5 406.1,332.5 407.6,331.9 408.7,330.9 409.5,328.3 410.2,330.9 411.3,328.5 412.3,331.9 413.4,332.7 414.4,333.5 415.8,333.7 417.0,333.3 418.0,333.7 418.9,329.3 419.6,326.2 420.3,329.9 421.2,325.2 422.2,320.5 423.0,326.2 423.8,330.9 424.8,333.0 426.2,333.0 427.4,333.0 428.7,333.3 430.0,333.5 431.4,332.5 432.4,331.9 433.5,330.4 434.5,330.9 435.5,331.4 436.3,327.2 436.6,319.4 437.1,330.4 437.8,334.0 438.7,330.9 439.4,332.5 440.4,333.5 441.8,333.7 443.0,334.0 444.1,334.3 445.3,334.3"/>
<polyline class="d" points="447.7,334.5 449.1,334.3 450.1,334.0 451.2,332.5 452.2,334.0 453.5,334.5 454.7,334.8 456.1,335.1 457.4,334.5 458.5,331.4 459.2,334.0 460.2,333.3 461.6,332.5 462.8,331.9 463.9,330.4 464.9,328.3 466.0,326.7 467.0,329.3 468.0,329.9 469.1,329.3 470.1,330.9 471.2,331.2 472.0,330.9 473.1,332.5 474.2,333.5 475.2,335.4 476.2,332.5 477.3,330.9 478.3,329.3 479.4,327.8 480.4,329.9 481.5,331.9 482.5,333.5 483.5,332.5 484.6,331.9 485.4,333.5 486.2,330.4 487.0,326.7 487.7,325.7 488.3,325.2 488.9,331.4 489.6,330.4"/>
<polyline class="d" points="546.8,323.1 547.8,323.9 549.2,324.6 550.4,326.7 551.7,327.0 553.0,326.7 554.1,325.2 555.1,323.6 556.1,324.1 557.2,325.7 557.9,330.4 558.8,324.1 559.6,326.2 560.6,323.6 561.7,326.7 562.9,326.7 564.2,326.2 565.0,323.6 566.2,323.6 567.3,325.7 568.3,327.2 569.4,328.3 570.4,327.8 571.5,329.9 572.8,328.3 573.9,327.2 575.2,326.7 576.5,327.2 577.7,326.7 579.1,326.7 580.4,326.4 581.1,328.3 581.7,332.5 582.5,329.3 583.5,329.9 584.6,330.9 585.6,334.0 586.4,331.4 587.4,332.5 588.1,328.3 589.0,327.2 590.2,327.0 591.6,328.3 592.9,328.8 594.2,329.1 595.2,329.3"/>
<polyline class="d" points="597.1,328.8 598.1,327.2 599.2,327.8 600.2,326.2 601.2,325.7 602.3,327.8 603.5,329.1 604.8,328.3 605.8,327.2 606.9,326.2 608.2,326.7 609.3,329.9 610.3,327.8 611.7,326.7 612.9,326.4 614.0,326.4 615.6,326.4 617.1,326.5 618.7,326.8 619.7,328.8 620.5,330.9 621.5,331.4 622.5,329.9 623.4,327.8 624.4,327.0 625.7,327.2 627.0,326.4 628.4,326.4 629.4,327.2 630.1,330.4 630.9,326.7 631.7,328.3 632.5,326.7 633.6,328.8 634.3,326.7 635.4,327.2 636.1,330.4 636.9,327.2 637.8,331.9 638.5,327.2 639.2,328.3 640.0,334.0 640.7,327.8 641.6,326.7 642.6,327.2 643.7,328.3 644.4,329.3 645.2,326.7 646.3,327.8 647.3,327.0 648.6,326.7 649.9,327.2 650.5,329.1 651.3,327.0 652.5,326.7 653.8,327.0 655.1,327.2 656.2,328.3 657.2,327.2 658.3,329.1 659.0,327.2 660.4,327.0 661.9,327.0 663.5,327.0 665.0,327.0 666.6,327.0 668.0,327.2 669.0,328.1 670.0,326.7 671.1,326.5"/>
<polyline class="d" points="673.9,329.3 674.9,328.3 676.0,329.9 677.0,330.4 678.1,327.8 679.4,327.2 680.7,327.5 681.9,327.8 683.3,328.1 684.6,327.5 685.9,327.0 687.1,327.2 688.2,327.8 689.2,328.3 690.0,330.4 690.7,333.0 691.3,325.7 691.9,331.4 692.6,334.0 693.4,328.3 694.0,329.3 694.0,326.2 694.6,332.5 695.4,327.2 696.2,330.4 697.0,328.3 698.0,327.8 698.8,328.8"/>
<path class="tm" d="M109.5 286.5V283.2M109.5 353.5V356.8M122.5 286.5V283.2M122.5 353.5V356.8M134.5 286.5V283.2M134.5 353.5V356.8M159.5 286.5V283.2M159.5 353.5V356.8M172.5 286.5V283.2M172.5 353.5V356.8M184.5 286.5V283.2M184.5 353.5V356.8M209.5 286.5V283.2M209.5 353.5V356.8M222.5 286.5V283.2M222.5 353.5V356.8M234.5 286.5V283.2M234.5 353.5V356.8M259.5 286.5V283.2M259.5 353.5V356.8M271.5 286.5V283.2M271.5 353.5V356.8M284.5 286.5V283.2M284.5 353.5V356.8M309.5 286.5V283.2M309.5 353.5V356.8M321.5 286.5V283.2M321.5 353.5V356.8M334.5 286.5V283.2M334.5 353.5V356.8M359.5 286.5V283.2M359.5 353.5V356.8M371.5 286.5V283.2M371.5 353.5V356.8M384.5 286.5V283.2M384.5 353.5V356.8M408.5 286.5V283.2M408.5 353.5V356.8M421.5 286.5V283.2M421.5 353.5V356.8M433.5 286.5V283.2M433.5 353.5V356.8M458.5 286.5V283.2M458.5 353.5V356.8M471.5 286.5V283.2M471.5 353.5V356.8M483.5 286.5V283.2M483.5 353.5V356.8M508.5 286.5V283.2M508.5 353.5V356.8M521.5 286.5V283.2M521.5 353.5V356.8M533.5 286.5V283.2M533.5 353.5V356.8M558.5 286.5V283.2M558.5 353.5V356.8M570.5 286.5V283.2M570.5 353.5V356.8M583.5 286.5V283.2M583.5 353.5V356.8M608.5 286.5V283.2M608.5 353.5V356.8M620.5 286.5V283.2M620.5 353.5V356.8M633.5 286.5V283.2M633.5 353.5V356.8M658.5 286.5V283.2M658.5 353.5V356.8M670.5 286.5V283.2M670.5 353.5V356.8M683.5 286.5V283.2M683.5 353.5V356.8M708.5 286.5V283.2M708.5 353.5V356.8M720.5 286.5V283.2M720.5 353.5V356.8M732.5 286.5V283.2M732.5 353.5V356.8M97.5 349.5H94.2M745.5 349.5H748.8M97.5 346.5H94.2M745.5 346.5H748.8M97.5 343.5H94.2M745.5 343.5H748.8M97.5 339.5H94.2M745.5 339.5H748.8M97.5 333.5H94.2M745.5 333.5H748.8M97.5 329.5H94.2M745.5 329.5H748.8M97.5 326.5H94.2M745.5 326.5H748.8M97.5 323.5H94.2M745.5 323.5H748.8M97.5 316.5H94.2M745.5 316.5H748.8M97.5 313.5H94.2M745.5 313.5H748.8M97.5 310.5H94.2M745.5 310.5H748.8M97.5 306.5H94.2M745.5 306.5H748.8M97.5 300.5H94.2M745.5 300.5H748.8M97.5 296.5H94.2M745.5 296.5H748.8M97.5 293.5H94.2M745.5 293.5H748.8M97.5 290.5H94.2M745.5 290.5H748.8"/>
<path class="tk" d="M97.5 286.5V280.9M97.5 353.5V359.1M147.5 286.5V280.9M147.5 353.5V359.1M197.5 286.5V280.9M197.5 353.5V359.1M247.5 286.5V280.9M247.5 353.5V359.1M296.5 286.5V280.9M296.5 353.5V359.1M346.5 286.5V280.9M346.5 353.5V359.1M396.5 286.5V280.9M396.5 353.5V359.1M446.5 286.5V280.9M446.5 353.5V359.1M496.5 286.5V280.9M496.5 353.5V359.1M546.5 286.5V280.9M546.5 353.5V359.1M595.5 286.5V280.9M595.5 353.5V359.1M645.5 286.5V280.9M645.5 353.5V359.1M695.5 286.5V280.9M695.5 353.5V359.1M745.5 286.5V280.9M745.5 353.5V359.1M97.5 353.5H91.9M745.5 353.5H751.1M97.5 336.5H91.9M745.5 336.5H751.1M97.5 320.5H91.9M745.5 320.5H751.1M97.5 303.5H91.9M745.5 303.5H751.1M97.5 286.5H91.9M745.5 286.5H751.1"/>
<rect class="sp" x="97.5" y="286.5" width="648" height="67"/>
<text class="ty" transform="translate(88.4 355.85) scale(1 1.1)" text-anchor="end">0</text>
<text class="ty" transform="translate(88.9 338.85) scale(1 1.1)" text-anchor="end" letter-spacing="0.5px">25</text>
<text class="ty" transform="translate(88.9 322.85) scale(1 1.1)" text-anchor="end" letter-spacing="0.5px">50</text>
<text class="ty" transform="translate(88.9 305.85) scale(1 1.1)" text-anchor="end" letter-spacing="0.5px">75</text>
<text class="ty" transform="translate(87.4 288.85) scale(1 1.1)" text-anchor="end">100</text>
<text class="t12" transform="translate(41.1 320.5) rotate(-90)" text-anchor="middle">Vth</text>
<text class="t12" transform="translate(57.7 321) rotate(-90)" text-anchor="middle">(km/s)</text>
</g>
<g id="panel4">
<rect x="97.5" y="363.5" width="648" height="50" fill="#ffffdc"/>
<path class="gr" stroke-dashoffset="1.5" d="M147.5 363.5V413.5M197.5 363.5V413.5M247.5 363.5V413.5M296.5 363.5V413.5M346.5 363.5V413.5M396.5 363.5V413.5M446.5 363.5V413.5M496.5 363.5V413.5M546.5 363.5V413.5M595.5 363.5V413.5M645.5 363.5V413.5M695.5 363.5V413.5"/>
<path class="zl" d="M97 388.5H745.5"/>
<polyline class="d" points="97.5,390.0 98.6,390.6 100.2,389.5 101.7,391.3 103.1,391.6 104.3,391.9 105.4,393.2 106.2,390.0 107.5,389.0 108.7,388.5 110.1,387.1 111.4,386.4 112.7,387.4 113.7,386.4 114.8,383.8 115.8,384.8 116.6,387.4 117.7,389.0 118.4,390.6 119.1,393.2 120.0,389.5 121.2,388.8 122.6,388.5 123.6,388.0 124.6,391.1 125.4,387.4 126.7,386.4 128.1,385.4 129.3,384.6 130.6,383.6 131.4,383.3 132.2,390.0 133.0,394.7 133.7,391.1 134.5,384.8 135.4,381.2 136.1,383.3 136.8,385.4 137.7,381.7 138.5,383.8 139.2,379.1 140.0,382.2 140.6,388.5 141.3,381.2 142.0,379.6 142.6,377.0"/>
<polyline class="d" points="144.4,382.8 145.5,381.2 146.5,379.6 147.6,377.5 148.6,375.5 149.6,378.1 150.4,385.4 151.2,379.6 152.2,378.6 153.3,374.9 154.3,375.5 155.4,377.5 156.4,379.6 157.5,376.5 158.5,378.6 159.3,382.2 160.4,383.8 161.4,384.3 162.1,380.1 163.2,382.2 164.2,383.3 165.6,384.8 166.8,386.4 168.1,387.4 169.1,386.4 170.0,387.4 170.8,382.2 171.6,380.7 172.3,387.4 173.1,390.6 174.0,383.8 174.7,380.1 175.7,380.7 176.8,383.3 177.8,381.2 178.9,380.1 179.9,378.6 180.9,382.8 182.0,378.1 183.0,377.3 184.4,377.5 185.4,380.7 186.1,378.1 187.2,382.2 187.9,386.4 188.8,382.8 189.6,378.6 190.6,380.1 191.7,378.1 192.9,378.6 194.2,379.6 195.2,381.2 196.2,382.8 197.3,383.8 198.3,383.3 199.4,384.8 200.4,389.0 201.0,382.8 201.5,372.3 202.5,372.9 203.3,378.6 204.2,382.2 204.9,384.3 205.6,381.2 206.5,383.3 207.3,383.8 208.0,381.7 208.8,373.4 209.4,384.3 210.4,386.4 211.5,384.8 212.5,381.2 213.2,374.4 214.0,372.9 214.6,381.7 215.3,385.9 216.4,388.0 217.4,388.2 218.1,382.8 218.8,375.5 219.8,374.9 221.0,374.4 222.1,376.5 223.1,377.5 224.0,380.7 224.7,377.0 225.7,374.4 226.8,375.5 227.8,373.9 228.9,373.4 229.9,374.9 230.6,379.6 231.7,379.1 232.5,375.5 233.3,378.1 234.4,377.5 235.4,379.6 236.1,382.2 236.9,385.4 237.7,388.5 238.5,391.1 239.3,386.4 240.3,384.3 241.4,384.8 242.4,382.8 243.4,378.6 244.0,386.9 244.8,381.7 245.9,377.5 246.6,375.5 247.3,379.6 248.2,373.4 249.2,372.9 250.0,376.5 251.1,378.1 252.1,377.5 253.2,381.2 253.9,376.5 254.9,376.0 255.7,375.5 256.3,388.5 257.0,382.8 257.8,376.0 258.6,376.5 259.4,386.4 260.1,376.5 260.9,382.8 261.7,388.5 262.5,384.8 263.3,379.6 264.3,377.5 265.4,383.3 266.1,377.5 267.1,374.4 268.2,372.9 269.2,372.3 270.2,374.4 271.6,374.9 273.0,375.5 274.2,376.0 275.0,377.5 275.8,381.2 276.8,380.1 277.5,383.3 278.9,382.8 280.2,383.0 281.5,383.3 282.8,383.0 283.8,385.4 284.8,387.4 285.9,389.5 286.7,392.6 288.0,392.1 289.0,391.6 289.8,393.2 290.9,390.6 291.9,391.6 293.0,390.0 294.0,388.5 295.0,387.4 296.1,385.9 297.1,384.8 298.0,388.0 299.0,387.4 300.2,388.0 301.3,389.0"/>
<polyline class="d" points="303.4,389.5 304.6,390.0 305.7,388.5 306.7,391.1 307.8,389.0 308.6,384.3 309.4,382.8 310.5,385.4 311.5,383.3 312.5,384.3 313.6,383.3 314.6,382.8 315.7,383.3 316.7,385.9 317.4,387.4 318.0,391.3 319.6,391.6 321.1,391.7 322.7,391.3 323.4,386.4 324.2,383.8 325.3,384.3 326.3,386.4 327.4,384.3 328.4,385.4 329.5,386.4 330.5,388.5 331.3,385.9 332.4,383.3 333.4,383.6 334.1,388.0 334.9,392.1 335.5,384.3 336.2,382.8 336.8,390.0 337.8,388.5 338.8,389.0 339.9,386.4 340.7,390.0 341.8,389.5 343.0,390.6 344.2,391.1 345.6,391.9 346.6,393.2 347.7,390.6 348.7,389.5 349.8,389.0 350.8,388.5 351.9,384.8 352.9,389.0 353.9,388.5 355.0,388.0 356.0,383.8 357.1,383.3 358.1,386.4 359.1,389.5 359.9,386.9 360.7,383.3 361.8,383.8 362.8,383.3 363.8,386.4 364.7,394.7 365.4,393.7 365.9,386.9 367.0,385.4 368.0,384.3 369.0,383.3 370.3,382.8 371.6,383.6 372.7,384.3 373.7,385.9 374.8,384.8 375.8,384.3 376.5,387.4 377.2,383.3 378.4,382.5 379.7,383.0 381.0,384.3 382.1,385.4 383.1,383.3 384.5,382.8 385.7,383.3 387.0,383.0 388.3,383.6 389.7,383.3 390.9,384.8 392.0,386.4 393.0,388.0 393.9,394.2 394.6,387.4 395.3,384.3 396.2,386.9 397.0,382.8 398.2,381.7 399.8,381.2 401.4,381.4 402.4,381.7 403.5,383.3 404.3,385.4 405.0,383.3 406.1,382.5 407.4,382.2 408.7,382.8 409.9,382.5 411.0,383.3 412.3,382.5 413.7,382.2 414.9,383.0 415.8,385.4 416.5,383.3 417.5,382.5 418.6,384.8 419.3,390.0 420.1,384.3 421.0,382.8 421.7,389.0 422.4,394.2 423.2,390.6 424.1,386.4 425.1,384.3 426.4,383.6 427.4,383.8 428.2,386.4 429.3,383.6 430.5,383.3 431.8,383.6 433.1,383.3 434.2,384.3 435.2,382.8 436.3,383.3 436.8,390.6 437.4,382.8 438.7,382.2 439.9,381.9 441.5,381.5 443.0,381.2 444.6,381.0 445.6,380.9"/>
<polyline class="d" points="447.7,380.7 449.1,379.8 450.3,380.5 451.2,382.2 451.9,384.8 452.6,382.8 453.7,381.2 455.0,380.7 456.4,380.9 457.6,380.5 458.7,381.2 459.7,383.3 460.5,386.4 461.3,384.8 462.0,389.0 462.8,383.8 463.5,390.6 464.1,384.3 464.7,380.7 465.8,381.2 466.8,383.3 467.5,381.2 468.6,381.7 469.3,386.4 470.1,382.2 471.0,381.2 472.0,385.4 472.9,385.9 474.0,386.9 475.0,389.5 476.0,386.4 476.9,384.3 477.9,389.0 479.0,390.0 479.7,391.6 480.4,386.4 481.5,385.9 482.3,389.0 483.1,386.4 484.2,388.5 485.2,385.4 485.9,390.0 486.5,384.8 487.0,379.6 487.7,386.4 488.8,387.4 489.6,388.5"/>
<polyline class="d" points="546.8,389.0 547.5,392.1 548.3,395.2 549.2,390.0 549.9,384.3 550.9,382.8 552.0,383.8 553.0,384.8 553.8,391.1 554.6,389.0 555.4,390.6 556.1,386.9 556.9,390.6 557.9,391.1 559.0,390.0 560.0,386.9 560.8,383.8 561.7,381.7 562.4,392.1 563.1,388.5 564.2,386.4 565.2,385.9 566.2,384.8 567.1,381.2 567.9,377.5 568.6,377.0 569.2,395.2 569.8,377.5 570.7,376.0 571.8,377.0 572.8,377.5 573.5,384.8 574.4,380.7 575.2,388.0 575.9,391.6 576.7,396.3 577.5,394.7 578.3,399.4 579.4,399.9 580.4,398.9 581.1,389.0 581.7,379.6 582.2,374.4 582.7,389.0 583.5,391.1 584.3,388.0 585.0,382.8 585.6,379.6 586.4,376.5 587.1,384.8 587.7,377.5 588.4,387.4 589.0,376.5 590.0,374.4 590.8,377.5 591.6,381.7 592.3,377.5 593.1,376.0 594.2,374.4 595.2,373.2"/>
<polyline class="d" points="596.8,382.8 597.5,379.6 598.3,376.0 599.4,374.9 600.2,377.5 600.9,384.8 601.7,393.2 602.5,394.7 603.3,391.1 604.1,389.0 604.8,394.2 605.6,392.1 606.5,395.8 607.5,396.3 608.2,390.0 608.8,382.8 609.4,392.1 610.0,395.2 610.8,394.7 611.9,397.3 612.7,395.2 613.4,393.7 614.0,397.3 615.2,397.9 616.3,398.9 617.3,396.3 618.0,399.9 618.4,374.4 619.2,371.8 620.0,376.5 621.1,380.7 622.1,383.8 623.2,387.4 623.9,392.1 624.4,399.9 625.2,393.7 626.0,397.3 627.0,399.4 628.1,399.9 628.8,393.2 629.4,384.8 630.1,389.0 630.9,395.2 631.5,399.9 632.2,396.3 633.3,392.6 634.0,398.4 634.8,396.3 635.4,380.7 636.1,390.0 636.7,396.3 637.4,391.6 638.2,398.4 639.2,399.4 640.0,389.5 640.7,398.4 641.6,401.0 642.6,399.9 643.7,397.9 644.4,400.5 645.0,394.2 645.8,390.0 646.5,399.4 647.3,401.5 648.6,402.5 649.6,401.0 650.7,399.4 651.5,399.9 652.5,397.3 653.6,398.9 654.8,399.4 655.7,395.2 656.2,384.8 656.7,374.9 657.8,375.5 658.8,373.9 660.0,372.3 661.4,373.4 662.8,373.6 664.0,373.9 665.0,372.9 666.1,374.4 667.1,376.5 668.2,376.0 669.2,378.6 670.0,384.8 670.8,392.1 671.5,390.0"/>
<polyline class="d" points="673.6,383.3 674.4,379.6 675.0,378.6 675.7,392.1 676.7,394.2 677.8,395.8 678.6,389.0 679.6,379.6 680.5,374.4 681.5,377.0 682.5,379.1 683.6,378.6 684.8,377.5 686.1,377.3 686.9,380.7 688.0,385.4 688.8,387.4 689.5,384.3 690.2,383.8 691.1,389.5 691.9,391.1 692.6,396.3 693.4,384.8 694.0,383.3 694.9,382.8 695.6,388.0 696.5,387.4 697.3,389.5 698.0,384.8 698.5,383.3 699.1,385.4"/>
<path class="tm" d="M109.5 363.5V360.2M109.5 413.5V416.8M122.5 363.5V360.2M122.5 413.5V416.8M134.5 363.5V360.2M134.5 413.5V416.8M159.5 363.5V360.2M159.5 413.5V416.8M172.5 363.5V360.2M172.5 413.5V416.8M184.5 363.5V360.2M184.5 413.5V416.8M209.5 363.5V360.2M209.5 413.5V416.8M222.5 363.5V360.2M222.5 413.5V416.8M234.5 363.5V360.2M234.5 413.5V416.8M259.5 363.5V360.2M259.5 413.5V416.8M271.5 363.5V360.2M271.5 413.5V416.8M284.5 363.5V360.2M284.5 413.5V416.8M309.5 363.5V360.2M309.5 413.5V416.8M321.5 363.5V360.2M321.5 413.5V416.8M334.5 363.5V360.2M334.5 413.5V416.8M359.5 363.5V360.2M359.5 413.5V416.8M371.5 363.5V360.2M371.5 413.5V416.8M384.5 363.5V360.2M384.5 413.5V416.8M408.5 363.5V360.2M408.5 413.5V416.8M421.5 363.5V360.2M421.5 413.5V416.8M433.5 363.5V360.2M433.5 413.5V416.8M458.5 363.5V360.2M458.5 413.5V416.8M471.5 363.5V360.2M471.5 413.5V416.8M483.5 363.5V360.2M483.5 413.5V416.8M508.5 363.5V360.2M508.5 413.5V416.8M521.5 363.5V360.2M521.5 413.5V416.8M533.5 363.5V360.2M533.5 413.5V416.8M558.5 363.5V360.2M558.5 413.5V416.8M570.5 363.5V360.2M570.5 413.5V416.8M583.5 363.5V360.2M583.5 413.5V416.8M608.5 363.5V360.2M608.5 413.5V416.8M620.5 363.5V360.2M620.5 413.5V416.8M633.5 363.5V360.2M633.5 413.5V416.8M658.5 363.5V360.2M658.5 413.5V416.8M670.5 363.5V360.2M670.5 413.5V416.8M683.5 363.5V360.2M683.5 413.5V416.8M708.5 363.5V360.2M708.5 413.5V416.8M720.5 363.5V360.2M720.5 413.5V416.8M732.5 363.5V360.2M732.5 413.5V416.8M97.5 410.5H94.2M745.5 410.5H748.8M97.5 407.5H94.2M745.5 407.5H748.8M97.5 404.5H94.2M745.5 404.5H748.8M97.5 397.5H94.2M745.5 397.5H748.8M97.5 394.5H94.2M745.5 394.5H748.8M97.5 391.5H94.2M745.5 391.5H748.8M97.5 385.5H94.2M745.5 385.5H748.8M97.5 382.5H94.2M745.5 382.5H748.8M97.5 379.5H94.2M745.5 379.5H748.8M97.5 373.5H94.2M745.5 373.5H748.8M97.5 369.5H94.2M745.5 369.5H748.8M97.5 366.5H94.2M745.5 366.5H748.8"/>
<path class="tk" d="M97.5 363.5V357.9M97.5 413.5V419.1M147.5 363.5V357.9M147.5 413.5V419.1M197.5 363.5V357.9M197.5 413.5V419.1M247.5 363.5V357.9M247.5 413.5V419.1M296.5 363.5V357.9M296.5 413.5V419.1M346.5 363.5V357.9M346.5 413.5V419.1M396.5 363.5V357.9M396.5 413.5V419.1M446.5 363.5V357.9M446.5 413.5V419.1M496.5 363.5V357.9M496.5 413.5V419.1M546.5 363.5V357.9M546.5 413.5V419.1M595.5 363.5V357.9M595.5 413.5V419.1M645.5 363.5V357.9M645.5 413.5V419.1M695.5 363.5V357.9M695.5 413.5V419.1M745.5 363.5V357.9M745.5 413.5V419.1M97.5 413.5H91.9M745.5 413.5H751.1M97.5 400.5H91.9M745.5 400.5H751.1M97.5 388.5H91.9M745.5 388.5H751.1M97.5 376.5H91.9M745.5 376.5H751.1M97.5 363.5H91.9M745.5 363.5H751.1"/>
<rect class="sp" x="97.5" y="363.5" width="648" height="50"/>
<text class="ty" transform="translate(87.4 415.85) scale(1 1.1)" text-anchor="end" letter-spacing="-1px">−8</text>
<text class="ty" transform="translate(87.4 402.85) scale(1 1.1)" text-anchor="end" letter-spacing="-1px">−4</text>
<text class="ty" transform="translate(88.4 390.85) scale(1 1.1)" text-anchor="end">0</text>
<text class="ty" transform="translate(88.4 378.85) scale(1 1.1)" text-anchor="end">4</text>
<text class="ty" transform="translate(88.4 365.85) scale(1 1.1)" text-anchor="end">8</text>
<text class="t12" transform="translate(51.2 390.2) rotate(-90)" text-anchor="middle">From</text>
<text class="t12" transform="translate(64.5 389) rotate(-90)" text-anchor="middle">S+/N- (°)</text>
</g>
<g id="xlabels">
<text class="tx tn" transform="translate(96.8 429.6) scale(1 1.08)" text-anchor="middle">0400</text>
<text class="tx" transform="translate(96.8 440.8) scale(1 1.08)" text-anchor="middle">Mar 08</text>
<text class="tx" transform="translate(96.8 452.6) scale(1 1.08)" text-anchor="middle">doy 067</text>
<text class="tx tn" transform="translate(146.64 429.6) scale(1 1.08)" text-anchor="middle">0800</text>
<text class="tx tn" transform="translate(196.48 429.6) scale(1 1.08)" text-anchor="middle">1200</text>
<text class="tx tn" transform="translate(246.32 429.6) scale(1 1.08)" text-anchor="middle">1600</text>
<text class="tx tn" transform="translate(296.15 429.6) scale(1 1.08)" text-anchor="middle">2000</text>
<text class="tx tn" transform="translate(345.99 429.6) scale(1 1.08)" text-anchor="middle">0000</text>
<text class="tx" transform="translate(345.99 440.8) scale(1 1.08)" text-anchor="middle">Mar 09</text>
<text class="tx" transform="translate(345.99 452.6) scale(1 1.08)" text-anchor="middle">doy 068</text>
<text class="tx tn" transform="translate(395.83 429.6) scale(1 1.08)" text-anchor="middle">0400</text>
<text class="tx tn" transform="translate(445.67 429.6) scale(1 1.08)" text-anchor="middle">0800</text>
<text class="tx tn" transform="translate(495.51 429.6) scale(1 1.08)" text-anchor="middle">1200</text>
<text class="tx tn" transform="translate(545.35 429.6) scale(1 1.08)" text-anchor="middle">1600</text>
<text class="tx tn" transform="translate(595.18 429.6) scale(1 1.08)" text-anchor="middle">2000</text>
<text class="tx tn" transform="translate(645.02 429.6) scale(1 1.08)" text-anchor="middle">0000</text>
<text class="tx" transform="translate(645.02 440.8) scale(1 1.08)" text-anchor="middle">Mar 10</text>
<text class="tx" transform="translate(645.02 452.6) scale(1 1.08)" text-anchor="middle">doy 069</text>
<text class="tx tn" transform="translate(694.86 429.6) scale(1 1.08)" text-anchor="middle">0400</text>
<text class="tx tn" transform="translate(744.7 429.6) scale(1 1.08)" text-anchor="middle">0800</text>
</g>
<text class="t12" x="421.2" y="469.8" text-anchor="middle">Date (2026)</text>
<text class="t8" x="770.4" y="470" text-anchor="end">pmsw8 v8.0b5</text>
</svg>
</body></html>
